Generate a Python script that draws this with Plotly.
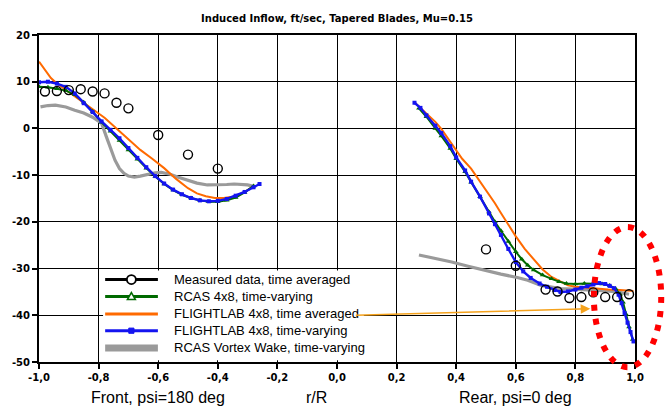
import plotly.graph_objects as go

# ---------------- text ----------------
title_text = "Induced Inflow, ft/sec, Tapered Blades, Mu=0.15"
x_tick_vals = [-1.0, -0.8, -0.6, -0.4, -0.2, 0.0, 0.2, 0.4, 0.6, 0.8, 1.0]
x_tick_text = ["-1,0", "-0,8", "-0,6", "-0,4", "-0,2", "0,0", "0,2", "0,4", "0,6", "0,8", "1,0"]
y_tick_vals = [20, 10, 0, -10, -20, -30, -40, -50]
y_tick_text = ["20", "10", "0", "-10", "-20", "-30", "-40", "-50"]
bottom_labels = ["Front, psi=180 deg", "r/R", "Rear, psi=0 deg"]
bottom_label_x = [-0.6, -0.07, 0.6]
legend_names = ["Measured data, time averaged", "RCAS 4x8, time-varying",
                "FLIGHTLAB 4x8, time averaged", "FLIGHTLAB 4x8, time-varying",
                "RCAS Vortex Wake, time-varying"]

# ---------------- data ----------------
meas_x_front = [-0.98, -0.94, -0.90, -0.86, -0.82, -0.78, -0.74, -0.70, -0.60, -0.50, -0.40]
meas_y_front = [7.9, 8.0, 8.2, 8.4, 7.9, 7.5, 5.5, 4.3, -1.4, -5.6, -8.6]
meas_x_rear = [0.50, 0.60, 0.70, 0.74, 0.78, 0.82, 0.86, 0.90, 0.94, 0.98]
meas_y_rear = [-25.9, -29.4, -34.5, -34.9, -36.3, -36.1, -35.1, -36.1, -36.1, -35.5]

blue_x_front = [-1.00, -0.97, -0.94, -0.91, -0.88, -0.85, -0.82, -0.79, -0.76, -0.73, -0.70, -0.67,
                -0.64, -0.61, -0.58, -0.55, -0.52, -0.49, -0.46, -0.43, -0.40, -0.37, -0.34,
                -0.31, -0.28, -0.26]
blue_y_front = [9.9, 10.0, 9.6, 8.9, 7.5, 5.4, 3.5, 1.5, -0.3, -2.1, -4.2, -6.3,
                -8.3, -10.2, -11.8, -13.1, -14.1, -14.9, -15.4, -15.6, -15.5, -15.1, -14.4,
                -13.6, -12.6, -11.9]
blue_x_rear = [0.26, 0.28, 0.30, 0.33, 0.35, 0.38, 0.40, 0.43, 0.45, 0.48, 0.51, 0.53, 0.55,
               0.575, 0.60, 0.625, 0.65, 0.68, 0.705, 0.73, 0.75, 0.775, 0.80, 0.82, 0.84,
               0.86, 0.88, 0.90, 0.915, 0.93, 0.945, 0.955, 0.965, 0.975, 0.985, 0.995]
blue_y_rear = [5.5, 4.4, 2.8, 0.6, -1.0, -3.8, -6.2, -9.0, -11.4, -14.6, -18.2, -20.5, -22.8,
               -25.8, -28.6, -30.6, -32.0, -33.2, -33.9, -34.6, -35.0, -34.9, -34.5, -34.1,
               -33.8, -33.4, -33.1, -33.3, -33.7, -34.2, -35.6, -37.4, -39.5, -41.6, -43.6, -45.6]

green_x_front = [-1.00, -0.97, -0.94, -0.91, -0.88, -0.85, -0.82, -0.79, -0.76, -0.73, -0.70,
                 -0.67, -0.64, -0.61, -0.58, -0.55, -0.52, -0.49, -0.46, -0.43, -0.40, -0.37,
                 -0.34, -0.31, -0.28]
green_y_front = [8.9, 8.8, 8.5, 8.1, 7.2, 5.6, 3.6, 1.3, -0.6, -2.6, -4.6, -6.6,
                 -8.5, -10.3, -11.9, -13.2, -14.2, -14.9, -15.4, -15.7, -15.7, -15.4,
                 -14.8, -13.7, -12.3]
green_x_rear = [0.275, 0.30, 0.33, 0.35, 0.38, 0.40, 0.43, 0.45, 0.48, 0.51, 0.53, 0.55, 0.575,
                0.60, 0.62, 0.64, 0.66, 0.69, 0.72, 0.745, 0.77, 0.80, 0.83, 0.86, 0.89,
                0.915, 0.935, 0.95, 0.96, 0.97, 0.98, 0.992]
green_y_rear = [4.3, 2.5, 0.0, -1.6, -4.3, -6.5, -9.3, -11.5, -14.6, -17.9, -20.0, -21.9, -24.2,
                -26.4, -28.0, -29.3, -30.3, -31.4, -32.2, -32.8, -33.2, -33.3, -33.2, -33.2,
                -33.3, -33.6, -34.3, -35.5, -37.2, -39.8, -42.5, -45.2]

orange_x_front = [-1.00, -0.98, -0.96, -0.94, -0.92, -0.90, -0.86, -0.82, -0.78, -0.74, -0.70,
                  -0.66, -0.62, -0.58, -0.54, -0.50, -0.47, -0.44, -0.41, -0.38, -0.35, -0.32,
                  -0.30, -0.28]
orange_y_front = [14.3, 12.5, 10.8, 9.6, 8.7, 7.9, 6.0, 4.2, 2.3, 0.0, -2.4, -4.6, -6.5, -8.5,
                  -10.8, -12.8, -13.9, -14.5, -14.9, -14.9, -14.6, -13.9, -13.2, -12.4]
orange_x_rear = [0.263, 0.30, 0.33, 0.35, 0.375, 0.40, 0.42, 0.45, 0.48, 0.51, 0.53, 0.55,
                 0.575, 0.60, 0.63, 0.66, 0.69, 0.72, 0.75, 0.775, 0.80, 0.83, 0.87, 0.91,
                 0.95, 0.995]
orange_y_rear = [5.4, 3.3, 1.4, -0.1, -2.4, -4.9, -6.5, -8.6, -11.3, -14.2, -16.0, -18.1,
                 -20.7, -23.1, -25.8, -28.1, -30.2, -31.8, -32.8, -33.6, -33.9, -34.1, -34.3,
                 -34.5, -34.6, -34.8]

gray_x_front = [-0.995, -0.97, -0.945, -0.91, -0.88, -0.85, -0.82, -0.79, -0.775, -0.76, -0.745,
                -0.73, -0.715, -0.70, -0.68, -0.66, -0.635, -0.61, -0.59, -0.56, -0.535, -0.50,
                -0.47, -0.435, -0.40, -0.37, -0.345, -0.32, -0.30, -0.28]
gray_y_front = [4.6, 4.9, 5.0, 4.6, 3.9, 3.3, 2.4, 1.1, -1.6, -4.3, -6.8, -8.6, -9.6, -10.2,
                -10.4, -10.2, -9.8, -9.5, -9.4, -9.8, -10.4, -11.1, -11.7, -12.1, -12.1, -12.0,
                -11.9, -12.0, -12.1, -12.4]
gray_x_rear = [0.275, 0.33, 0.385, 0.44, 0.495, 0.55, 0.605, 0.64, 0.685, 0.72, 0.75, 0.79,
               0.83, 0.87, 0.905, 0.94, 0.97, 0.98]
gray_y_rear = [-27.1, -27.8, -28.6, -29.5, -30.4, -31.2, -31.9, -32.5, -33.6, -34.0, -34.3,
               -34.4, -34.5, -34.6, -34.8, -35.0, -35.3, -35.5]

# ---------------- styles ----------------
col_meas = "#000000"
col_green = "#006A00"
col_orange = "#FF6A00"
col_blue = "#1414F0"
col_gray = "#9A9A9A"
col_arrow = "#F5A21C"

X_RANGE = [-1.0, 1.0]
Y_RANGE = [-50, 20]


def joined(a, b):
    return list(a) + [None] + list(b)


def to_paper_x(v):
    return (v - X_RANGE[0]) / (X_RANGE[1] - X_RANGE[0])


def to_paper_y(v):
    return (v - Y_RANGE[0]) / (Y_RANGE[1] - Y_RANGE[0])


fig = go.Figure()
fig.add_trace(go.Scatter(x=joined(gray_x_front, gray_x_rear), y=joined(gray_y_front, gray_y_rear),
                         mode="lines", line=dict(color=col_gray, width=3.2), connectgaps=False,
                         name=legend_names[4], showlegend=False))
fig.add_trace(go.Scatter(x=joined(orange_x_front, orange_x_rear),
                         y=joined(orange_y_front, orange_y_rear),
                         mode="lines", line=dict(color=col_orange, width=2), connectgaps=False,
                         name=legend_names[2], showlegend=False))
fig.add_trace(go.Scatter(x=joined(green_x_front, green_x_rear),
                         y=joined(green_y_front, green_y_rear),
                         mode="lines+markers", line=dict(color=col_green, width=2),
                         marker=dict(symbol="triangle-up", size=5, color=col_green),
                         connectgaps=False, name=legend_names[1], showlegend=False))
fig.add_trace(go.Scatter(x=joined(blue_x_front, blue_x_rear), y=joined(blue_y_front, blue_y_rear),
                         mode="lines+markers", line=dict(color=col_blue, width=2.4),
                         marker=dict(symbol="square", size=4, color=col_blue),
                         connectgaps=False, name=legend_names[3], showlegend=False))
fig.add_trace(go.Scatter(x=joined(meas_x_front, meas_x_rear), y=joined(meas_y_front, meas_y_rear),
                         mode="markers",
                         marker=dict(symbol="circle-open", size=9, color=col_meas,
                                     line=dict(width=1.4, color=col_meas)),
                         name=legend_names[0], showlegend=False))

# ---------------- hand-built legend ----------------
shapes = []
annotations = []
leg_x0, leg_x1 = -0.785, 0.09
leg_y0, leg_y1 = -49.6, -30.4
shapes.append(dict(type="rect", xref="x", yref="y", x0=leg_x0, x1=leg_x1, y0=leg_y0, y1=leg_y1,
                   fillcolor="white", line=dict(width=0), layer="between"))
row_y = [-32.35, -36.0, -39.7, -43.3, -47.0]
glyph_x0, glyph_x1, glyph_xc, text_x = -0.778, -0.601, -0.69, -0.553
leg_colors = [col_meas, col_green, col_orange, col_blue, col_gray]
leg_widths = [3, 3, 3, 3, 7]
for i, name in enumerate(legend_names):
    shapes.append(dict(type="line", xref="x", yref="y", x0=glyph_x0, x1=glyph_x1,
                       y0=row_y[i], y1=row_y[i], line=dict(color=leg_colors[i], width=leg_widths[i]),
                       layer="above"))
    annotations.append(dict(x=text_x, y=row_y[i], xref="x", yref="y", text=name, showarrow=False,
                            xanchor="left", yanchor="middle",
                            font=dict(family="Arial, Liberation Sans", size=13, color="black")))
# legend markers
shapes.append(dict(type="circle", xref="x", yref="y", xsizemode="pixel", ysizemode="pixel",
                   xanchor=glyph_xc, yanchor=row_y[0], x0=-4.5, x1=4.5, y0=-4.5, y1=4.5,
                   fillcolor="white", line=dict(color=col_meas, width=1.8), layer="above"))
shapes.append(dict(type="path", xref="x", yref="y", xsizemode="pixel", ysizemode="pixel",
                   xanchor=glyph_xc, yanchor=row_y[1], path="M-4,-3L4,-3L0,4Z",
                   fillcolor="white", line=dict(color=col_green, width=1.5), layer="above"))
shapes.append(dict(type="rect", xref="x", yref="y", xsizemode="pixel", ysizemode="pixel",
                   xanchor=glyph_xc, yanchor=row_y[3], x0=-2.6, x1=2.6, y0=-2.6, y1=2.6,
                   fillcolor=col_blue, line=dict(color=col_blue, width=1), layer="above"))

# red dotted ellipse (highlight)
ell_x0, ell_x1, ell_y0, ell_y1 = 0.862, 1.088, -51.1, -21.1
shapes.append(dict(type="circle", xref="paper", yref="paper",
                   x0=to_paper_x(ell_x0), x1=to_paper_x(ell_x1),
                   y0=to_paper_y(ell_y0), y1=to_paper_y(ell_y1),
                   line=dict(color="#FF0000", width=6, dash="6px,8px"), layer="above"))

# orange arrow
annotations.append(dict(x=0.85, y=-38.6, ax=0.058, ay=-40.0, xref="x", yref="y", axref="x",
                        ayref="y", text="", showarrow=True, arrowhead=2, arrowsize=1.2,
                        arrowwidth=1.6, arrowcolor=col_arrow, standoff=0))

# bottom labels
for lbl, lx in zip(bottom_labels, bottom_label_x):
    annotations.append(dict(x=lx, y=-0.11, xref="x", yref="paper", text=lbl, showarrow=False,
                            xanchor="center", yanchor="middle",
                            font=dict(family="Arial, Liberation Sans", size=16, color="black")))

tick_font = dict(family="DejaVu Sans", size=10, color="black", weight="bold")
axis_common = dict(showgrid=True, gridcolor="black", gridwidth=1.1, showline=True, linewidth=2,
                   linecolor="black", mirror=True, ticks="outside", ticklen=5, tickwidth=1.5,
                   tickcolor="black", zeroline=False, tickfont=tick_font)

fig.update_layout(
    width=666, height=417,
    margin=dict(l=33, r=31, t=35, b=55),
    paper_bgcolor="white", plot_bgcolor="white",
    showlegend=False,
    title=dict(text="<b>" + title_text + "</b>", x=to_paper_x(0.0), xref="paper", xanchor="center",
               y=1 - 18 / 417, yref="container", yanchor="middle",
               font=dict(family="DejaVu Sans", size=10, color="black")),
    xaxis=dict(range=X_RANGE, tickvals=x_tick_vals, ticktext=x_tick_text, **axis_common),
    yaxis=dict(range=Y_RANGE, tickvals=y_tick_vals, ticktext=y_tick_text, **axis_common),
    shapes=shapes,
    annotations=annotations,
)

fig.write_html("out.html", config={"displayModeBar": False},
               post_script="document.body.style.margin='0';document.body.style.padding='0';")
